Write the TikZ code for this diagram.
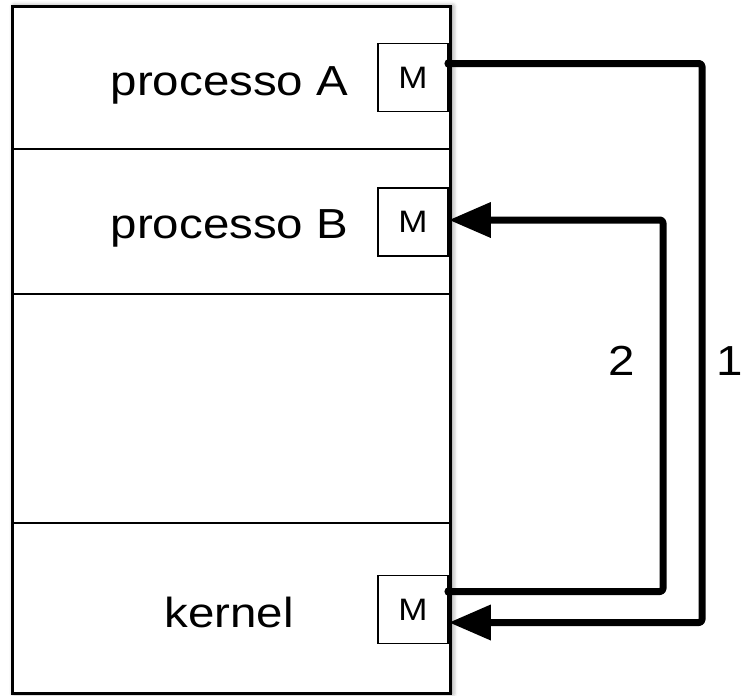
\documentclass[tikz,border=0pt]{standalone}
\usepackage{fontspec}
\setmainfont{Liberation Sans}
\newfontfamily\widefont[FakeStretch=1.13]{Liberation Sans}
\usetikzlibrary{arrows.meta,shadows.blur}
\begin{document}
\begin{tikzpicture}[x=1pt,y=-1pt,
  frame/.style={draw=black,line width=2.8pt},
  mbox/.style={draw=black,fill=white,line width=1.8pt,minimum width=70pt,minimum height=68pt,inner sep=0pt,font=\widefont\fontsize{31}{33}\selectfont},
  lbl/.style={font=\widefont\fontsize{42}{46}\selectfont,inner sep=0pt,anchor=base},
  conn/.style={line width=7pt,rounded corners=3pt,line join=round},
  tipend/.style={-{Triangle[length=42pt,width=34pt]}},
  startdot/.style={fill=black}
]
\useasboundingbox (0,0) rectangle (745,696);
% main memory block
\node[frame,fill=white,anchor=north west,minimum width=438pt,minimum height=687pt,inner sep=0pt,
  blur shadow={shadow xshift=2pt,shadow yshift=0pt,shadow blur radius=5pt,shadow opacity=50}] (mem) at (11,5) {};
\coordinate (d1l) at (11,149); \coordinate (d1r) at (449,149);
\coordinate (d2l) at (11,294); \coordinate (d2r) at (449,294);
\coordinate (d3l) at (11,523); \coordinate (d3r) at (449,523);
\draw[frame] (d1l) -- (d1r);
\draw[frame] (d2l) -- (d2r);
\draw[frame] (d3l) -- (d3r);
% labels
\node[lbl] (pA) at (229.5,95) {processo A};
\node[lbl] (pB) at (229.5,238) {processo B};
\node[lbl] (kern) at (229,627) {kernel};
% M boxes
\node[mbox] (mA) at (413,77.5) {M};
\node[mbox] (mB) at (413,222) {M};
\node[mbox] (mK) at (413,609.5) {M};
% connectors
\coordinate (r1) at (702,300);
\coordinate (r2) at (663,300);
\coordinate (sA) at ([yshift=14pt]mA.east);
\coordinate (sK) at ([yshift=18pt]mK.east);
\draw[conn,tipend] (sA) -| (r1) |- ([yshift=-13pt]mK.east);
\draw[conn,tipend] (sK) -| (r2) |- ([yshift=2pt]mB.east);
\fill[startdot] (sA) circle (4.5pt);
\fill[startdot] (sK) circle (4.5pt);
% numbers
\node[lbl] (n2) at (622,375) {2};
\node[lbl] (n1) at (730,375) {1};
\end{tikzpicture}
\end{document}
